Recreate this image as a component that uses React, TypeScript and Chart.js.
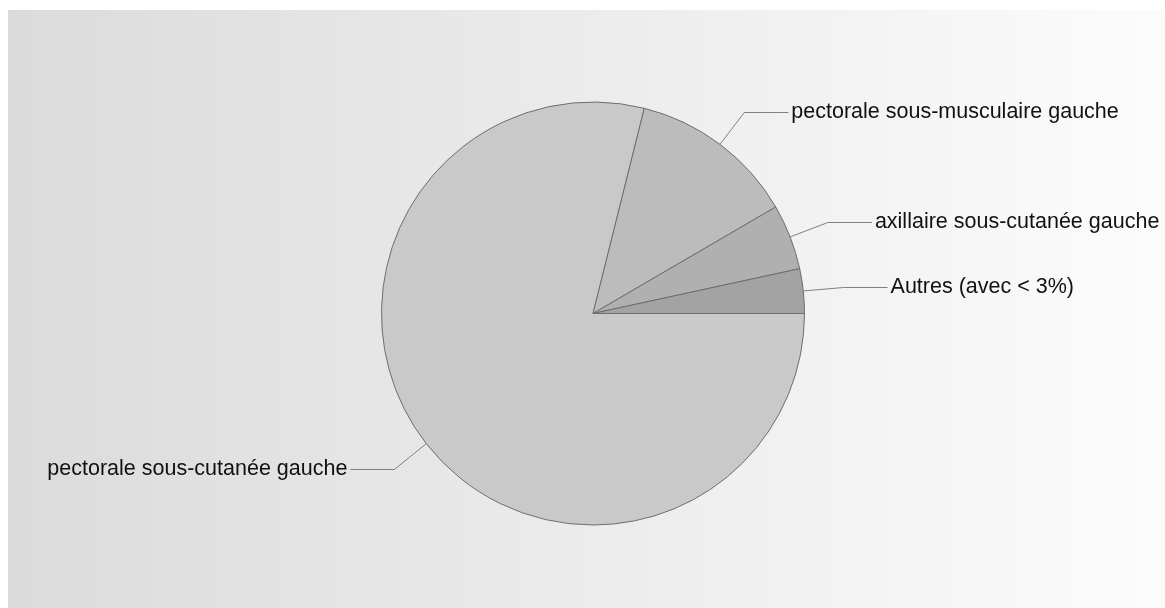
import React, { useEffect, useRef } from "react";
import { Chart, registerables } from "chart.js";

Chart.register(...registerables);

const categories: string[] = [
  "pectorale sous-cutanée gauche",
  "pectorale sous-musculaire gauche",
  "axillaire sous-cutanée gauche",
  "Autres (avec < 3%)",
];
const values: number[] = [78.9, 12.7, 5.0, 3.4];
const sliceColors: string[] = ["#c9c9c9", "#bcbcbc", "#b0b0b0", "#a3a3a3"];

const bgPlugin = {
  id: "bgGradient",
  beforeDraw(chart: any) {
    const { ctx, width, height } = chart;
    const g = ctx.createLinearGradient(0, 0, width, 0);
    g.addColorStop(0, "#dbdbdb");
    g.addColorStop(1, "#fcfcfc");
    ctx.save();
    ctx.fillStyle = g;
    ctx.fillRect(0, 0, width, height);
    ctx.restore();
  },
};

const labelPlugin = {
  id: "leaderLabels",
  afterDatasetsDraw(chart: any) {
    const { ctx } = chart;
    const meta = chart.getDatasetMeta(0);
    ctx.save();
    ctx.font = '21.5px "Liberation Sans", Arial, sans-serif';
    ctx.textBaseline = "middle";
    meta.data.forEach((arc: any, i: number) => {
      const { x, y, startAngle, endAngle, outerRadius } = arc.getProps(
        ["x", "y", "startAngle", "endAngle", "outerRadius"],
        true
      );
      const mid = (startAngle + endAngle) / 2;
      const c = Math.cos(mid);
      const s = Math.sin(mid);
      const x0 = x + outerRadius * c;
      const y0 = y + outerRadius * s;
      const r1 = outerRadius + 40.5;
      const x1 = x + r1 * c;
      const y1 = Math.round(y + r1 * s) + 0.5;
      const dir = c >= 0 ? 1 : -1;
      const x2 = x1 + dir * 44;
      ctx.strokeStyle = "#808080";
      ctx.lineWidth = 1;
      ctx.beginPath();
      ctx.moveTo(x0, y0);
      ctx.lineTo(x1, y1);
      ctx.lineTo(x2, y1);
      ctx.stroke();
      ctx.fillStyle = "#111111";
      ctx.textAlign = dir > 0 ? "left" : "right";
      ctx.fillText(categories[i], x2 + dir * 3, y1);
    });
    ctx.restore();
  },
};

export default function App() {
  const ref = useRef<HTMLCanvasElement | null>(null);
  useEffect(() => {
    if (!ref.current) return;
    const chart = new Chart(ref.current, {
      type: "pie",
      data: {
        labels: categories,
        datasets: [
          {
            data: values,
            backgroundColor: sliceColors,
            borderColor: "#6e6e6e",
            borderWidth: 1,
          },
        ],
      },
      options: {
        responsive: false,
        animation: false,
        rotation: 90,
        radius: 211.5,
        layout: { padding: { left: 170, right: 157, top: 50, bottom: 41 } },
        plugins: {
          legend: { display: false },
          tooltip: { enabled: false },
        },
      } as any,
      plugins: [bgPlugin, labelPlugin],
    });
    return () => chart.destroy();
  }, []);
  return (
    <div style={{ position: "fixed", left: 8, top: 10, width: 1157, height: 598 }}>
      <canvas ref={ref} width={1157} height={598} style={{ display: "block" }} />
    </div>
  );
}
